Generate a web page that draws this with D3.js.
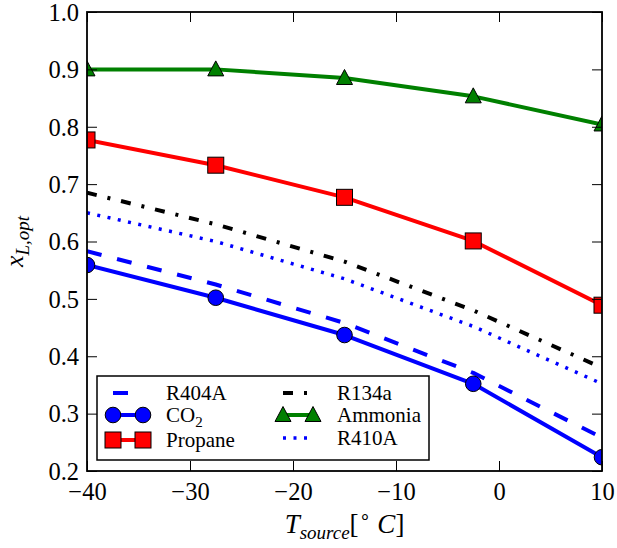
<!DOCTYPE html>
<html>
<head>
<meta charset="utf-8">
<script src="https://d3js.org/d3.v7.min.js"></script>
<style>
  body { margin: 0; background: #fff; }
</style>
</head>
<body>
<div id="chart"></div>
<script>
// data
const tSource = [-40, -27.5, -15, -2.5, 10];
const r404a   = [0.583, 0.525, 0.458, 0.371, 0.258];
const co2     = [0.559, 0.502, 0.437, 0.352, 0.224];
const propane = [0.777, 0.733, 0.677, 0.601, 0.489];
const r134a   = [0.685, 0.630, 0.565, 0.480, 0.380];
const ammonia = [0.900, 0.900, 0.885, 0.853, 0.804];
const r410a   = [0.650, 0.600, 0.535, 0.452, 0.352];

const xTicks = [-40, -30, -20, -10, 0, 10];
const yTicks = [0.2, 0.3, 0.4, 0.5, 0.6, 0.7, 0.8, 0.9, 1.0];

const series = [
  {name: "R404A",   values: r404a,   color: "blue",  width: 4, dash: "15,16", marker: null},
  {name: "CO2",     values: co2,     color: "blue",  width: 4, dash: null,    marker: "circle"},
  {name: "Propane", values: propane, color: "red",   width: 4, dash: null,    marker: "square"},
  {name: "R134a",   values: r134a,   color: "black", width: 4, dash: "10,11,3,11", marker: null},
  {name: "Ammonia", values: ammonia, color: "green", width: 4, dash: null,    marker: "triangle"},
  {name: "R410A",   values: r410a,   color: "blue",  width: 3.5, dash: "3,7.5", marker: null}
];

const W = 617, H = 548;
const m = {left: 87, right: 15, top: 12, bottom: 77};
const FONT = "Liberation Serif";

const svg = d3.select("#chart").append("svg")
  .attr("width", W).attr("height", H)
  .attr("font-family", FONT);

const x = d3.scaleLinear().domain([-40, 10]).range([m.left, W - m.right]);
const y = d3.scaleLinear().domain([0.2, 1.0]).range([H - m.bottom, m.top]);

svg.append("clipPath").attr("id", "clip")
  .append("rect")
  .attr("x", m.left).attr("y", m.top)
  .attr("width", W - m.left - m.right).attr("height", H - m.top - m.bottom);

// markers
function drawMarker(g, type, cx, cy, color) {
  if (type === "circle") {
    g.append("circle").attr("cx", cx).attr("cy", cy).attr("r", 7.8)
      .attr("fill", color).attr("stroke", "black").attr("stroke-width", 1);
  } else if (type === "square") {
    g.append("rect").attr("x", cx - 8).attr("y", cy - 8).attr("width", 16).attr("height", 16)
      .attr("fill", color).attr("stroke", "black").attr("stroke-width", 1);
  } else if (type === "triangle") {
    g.append("path")
      .attr("d", `M${cx},${cy - 8.5}L${cx + 8},${cy + 6.5}L${cx - 8},${cy + 6.5}Z`)
      .attr("fill", color).attr("stroke", "black").attr("stroke-width", 1);
  }
}

const line = d3.line().x(d => x(d[0])).y(d => y(d[1]));

const plot = svg.append("g").attr("clip-path", "url(#clip)");

series.forEach(s => {
  const pts = tSource.map((t, i) => [t, s.values[i]]);
  const g = plot.append("g");
  g.append("path")
    .datum(pts)
    .attr("d", line)
    .attr("fill", "none")
    .attr("stroke", s.color)
    .attr("stroke-width", s.width)
    .attr("stroke-dasharray", s.dash)
    .attr("stroke-linejoin", "round");
  if (s.marker) {
    pts.forEach(p => drawMarker(g, s.marker, x(p[0]), y(p[1]), s.color));
  }
});

// axes, ticks pointing inward on all sides
const fmtX = d => (d < 0 ? "\u2212" : "") + Math.abs(d);
const fmtY = d3.format(".1f");

const axB = svg.append("g").attr("transform", `translate(0,${H - m.bottom})`)
  .call(d3.axisBottom(x).tickValues(xTicks).tickFormat(fmtX).tickSizeInner(-10).tickSizeOuter(0).tickPadding(12));
const axL = svg.append("g").attr("transform", `translate(${m.left},0)`)
  .call(d3.axisLeft(y).tickValues(yTicks).tickFormat(fmtY).tickSizeInner(-10).tickSizeOuter(0).tickPadding(8));
const axT = svg.append("g").attr("transform", `translate(0,${m.top})`)
  .call(d3.axisTop(x).tickValues(xTicks).tickFormat("").tickSizeInner(-10).tickSizeOuter(0));
const axR = svg.append("g").attr("transform", `translate(${W - m.right},0)`)
  .call(d3.axisRight(y).tickValues(yTicks).tickFormat("").tickSizeInner(-10).tickSizeOuter(0));

[axB, axL, axT, axR].forEach(a => {
  a.attr("font-family", FONT).attr("font-size", 24.5);
  a.select(".domain").remove();
  a.selectAll(".tick line").attr("stroke", "black").attr("stroke-width", 1);
  a.selectAll(".tick text").attr("fill", "black").attr("font-family", FONT).attr("font-size", 24.5);
});
axB.selectAll(".tick text").attr("dy", "0.71em");
axL.selectAll(".tick text").attr("dy", "0.34em");

svg.append("rect")
  .attr("x", m.left).attr("y", m.top)
  .attr("width", W - m.left - m.right).attr("height", H - m.top - m.bottom)
  .attr("fill", "none").attr("stroke", "black").attr("stroke-width", 1.8);

// legend
const leg = svg.append("g");
leg.append("rect")
  .attr("x", 97).attr("y", 376).attr("width", 332).attr("height", 84)
  .attr("fill", "white").attr("stroke", "black").attr("stroke-width", 1.5);

const legPos = [
  {hx: 113, tx: 166, y: 393},
  {hx: 113, tx: 166, y: 415},
  {hx: 113, tx: 166, y: 440},
  {hx: 283, tx: 337, y: 393},
  {hx: 283, tx: 337, y: 415},
  {hx: 283, tx: 337, y: 438}
];

series.forEach((s, i) => {
  const p = legPos[i];
  const g = leg.append("g");
  g.append("line")
    .attr("x1", p.hx).attr("x2", p.hx + 30)
    .attr("y1", p.y).attr("y2", p.y)
    .attr("stroke", s.color).attr("stroke-width", s.width)
    .attr("stroke-dasharray", s.dash);
  if (s.marker) {
    drawMarker(g, s.marker, p.hx, p.y, s.color);
    drawMarker(g, s.marker, p.hx + 30, p.y, s.color);
  }
  const t = g.append("text")
    .attr("x", p.tx).attr("y", p.y + 7)
    .attr("font-family", FONT).attr("font-size", 21).attr("fill", "black");
  if (s.name === "CO2") {
    t.append("tspan").text("CO");
    t.append("tspan").attr("dy", 5).attr("font-size", 15).text("2");
  } else {
    t.text(s.name);
  }
});

// axis labels
const xl = svg.append("text")
  .attr("x", (m.left + W - m.right) / 2).attr("y", 533)
  .attr("text-anchor", "middle").attr("font-family", FONT).attr("font-size", 27);
xl.append("tspan").attr("font-style", "italic").text("T");
xl.append("tspan").attr("font-style", "italic").attr("font-size", 19).attr("dy", 6).text("source");
xl.append("tspan").attr("dy", -6).text("[");
xl.append("tspan").attr("font-size", 19).attr("dy", -10).text("\u2218");
xl.append("tspan").attr("font-style", "italic").attr("dy", 10).text(" C");
xl.append("tspan").text("]");

const yl = svg.append("text")
  .attr("transform", `translate(23,${(m.top + H - m.bottom) / 2}) rotate(-90)`)
  .attr("text-anchor", "middle").attr("font-family", FONT).attr("font-size", 26);
yl.append("tspan").attr("font-style", "italic").text("x");
yl.append("tspan").attr("font-style", "italic").attr("font-size", 19).attr("dy", 6).text("L,opt");
</script>
</body>
</html>
